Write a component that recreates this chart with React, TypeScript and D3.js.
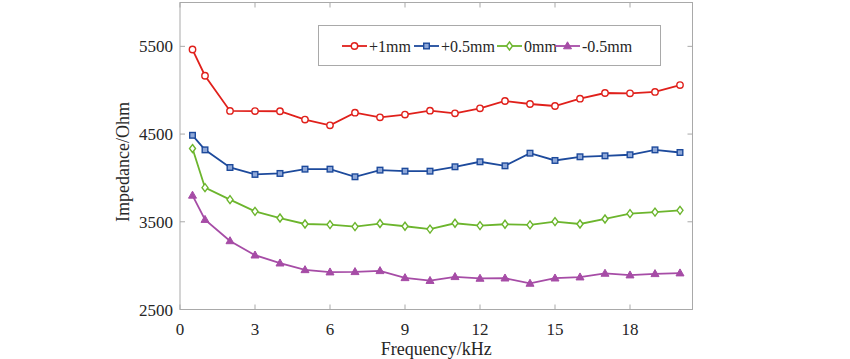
import * as d3 from "d3";
import { useMemo } from "react";

const freqs = [0.5, 1, 2, 3, 4, 5, 6, 7, 8, 9, 10, 11, 12, 13, 14, 15, 16, 17, 18, 19, 20];
const plus1mm = [5464, 5165, 4764, 4762, 4760, 4665, 4600, 4744, 4691, 4722, 4767, 4736, 4793, 4877, 4843, 4820, 4903, 4968, 4965, 4980, 5059];
const plus05mm = [4486, 4320, 4119, 4040, 4051, 4100, 4100, 4013, 4089, 4077, 4077, 4127, 4184, 4138, 4282, 4199, 4241, 4252, 4264, 4320, 4290];
const zeroMm = [4335, 3889, 3752, 3619, 3543, 3475, 3468, 3445, 3480, 3449, 3417, 3483, 3457, 3472, 3464, 3502, 3475, 3532, 3593, 3611, 3631];
const minus05mm = [3801, 3525, 3282, 3119, 3028, 2952, 2926, 2930, 2941, 2861, 2829, 2873, 2854, 2857, 2797, 2857, 2869, 2911, 2892, 2907, 2915];

const seriesNames = ["+1mm", "+0.5mm", "0mm", "-0.5mm"];
const xTicks = [0, 3, 6, 9, 12, 15, 18];
const yTicks = [2500, 3500, 4500, 5500];

const W = 850;
const H = 359;
const font = "'Liberation Serif', 'Times New Roman', serif";

type Shape = "circle" | "square" | "diamond" | "triangle";

const Marker = ({ x, y, shape, color }: { x: number; y: number; shape: Shape; color: string }) => {
  if (shape === "circle")
    return <circle cx={x} cy={y} r={3.2} fill="white" stroke={color} strokeWidth={1.4} />;
  if (shape === "square")
    return <rect x={x - 2.8} y={y - 2.8} width={5.6} height={5.6} fill="#8fa8d8" stroke={color} strokeWidth={1.4} />;
  if (shape === "diamond")
    return (
      <path d={`M${x},${y - 4}L${x + 3},${y}L${x},${y + 4}L${x - 3},${y}Z`} fill="white" stroke={color} strokeWidth={1.4} />
    );
  return <path d={`M${x},${y - 4.2}L${x + 4},${y + 2.8}L${x - 4},${y + 2.8}Z`} fill={color} stroke={color} strokeWidth={1} />;
};

export default function App() {
  const x = useMemo(() => d3.scaleLinear().domain([0, 20.5]).range([180, 692.5]), []);
  const y = useMemo(() => d3.scaleLinear().domain([2500, 6000]).range([309.5, 2.5]), []);

  const series = [
    { name: seriesNames[0], values: plus1mm, color: "#e0201b", shape: "circle" as Shape },
    { name: seriesNames[1], values: plus05mm, color: "#1d4a9c", shape: "square" as Shape },
    { name: seriesNames[2], values: zeroMm, color: "#6cb52d", shape: "diamond" as Shape },
    { name: seriesNames[3], values: minus05mm, color: "#a64ca6", shape: "triangle" as Shape },
  ];

  const line = d3
    .line<number>()
    .x((_, i) => x(freqs[i]))
    .y((d) => y(d));

  const [x0, x1] = x.range();
  const [y0, y1] = y.range();
  const frame = "#a9a9a9";
  const textColor = "#262626";

  // legend layout
  const legX = [342, 414, 497, 555];
  const legY = 46;

  return (
    <div style={{ position: "fixed", left: 0, top: 0 }}>
      <svg width={W} height={H} style={{ display: "block", background: "white" }} fontFamily={font}>
        {/* frame */}
        <rect x={x0} y={y1} width={x1 - x0} height={y0 - y1} fill="white" stroke={frame} strokeWidth={1} />
        {/* ticks */}
        {xTicks.map((t) => (
          <g key={"x" + t}>
            <line x1={x(t)} x2={x(t)} y1={y0} y2={y0 - 5} stroke={frame} />
            <line x1={x(t)} x2={x(t)} y1={y1} y2={y1 + 5} stroke={frame} />
            <text x={x(t)} y={335} textAnchor="middle" fontSize={17} fill={textColor}>
              {t}
            </text>
          </g>
        ))}
        {yTicks.map((t) => (
          <g key={"y" + t}>
            <line x1={x0} x2={x0 + 5} y1={y(t)} y2={y(t)} stroke={frame} />
            <line x1={x1} x2={x1 - 5} y1={y(t)} y2={y(t)} stroke={frame} />
            <text x={173} y={y(t) + 6} textAnchor="end" fontSize={17} fill={textColor}>
              {t}
            </text>
          </g>
        ))}
        {/* axis labels */}
        <text x={(x0 + x1) / 2} y={355} textAnchor="middle" fontSize={18} fill={textColor}>
          Frequency/kHz
        </text>
        <text transform={`translate(129,162) rotate(-90)`} textAnchor="middle" fontSize={18} fill={textColor}>
          Impedance/Ohm
        </text>
        {/* series */}
        {series.map((s) => (
          <g key={s.name}>
            <path d={line(s.values) ?? ""} fill="none" stroke={s.color} strokeWidth={1.8} />
            {s.values.map((v, i) => (
              <Marker key={i} x={x(freqs[i])} y={y(v)} shape={s.shape} color={s.color} />
            ))}
          </g>
        ))}
        {/* legend */}
        <rect x={318.5} y={25.5} width={342} height={40} fill="white" stroke={frame} strokeWidth={1} />
        {series.map((s, i) => (
          <g key={"leg" + s.name}>
            <line x1={legX[i]} x2={legX[i] + 25} y1={legY} y2={legY} stroke={s.color} strokeWidth={1.8} />
            <Marker x={legX[i] + 12.5} y={legY} shape={s.shape} color={s.color} />
            <text x={legX[i] + 27} y={legY + 5.5} fontSize={16} fill={textColor}>
              {s.name}
            </text>
          </g>
        ))}
      </svg>
    </div>
  );
}
